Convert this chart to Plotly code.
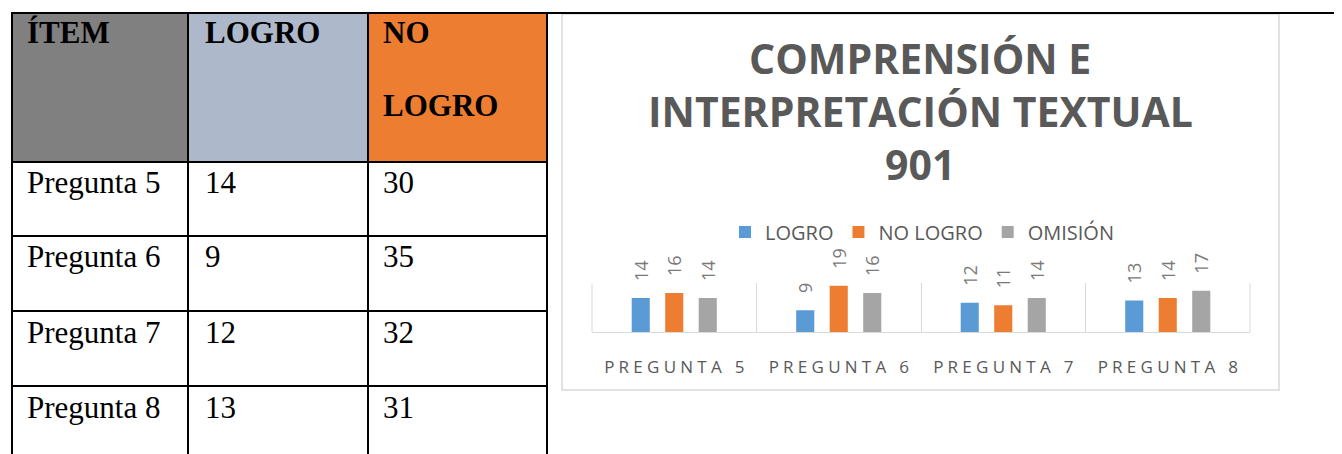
import plotly.graph_objects as go

# ---------------- data ----------------
preguntas = ["Pregunta 5", "Pregunta 6", "Pregunta 7", "Pregunta 8"]
tabla_logro = [14, 9, 12, 13]
tabla_no_logro = [30, 35, 32, 31]
tabla_headers = ["ÍTEM", "LOGRO", "NO<br>LOGRO"]

serie_nombres = ["LOGRO", "NO LOGRO", "OMISIÓN"]
logro = [14, 9, 12, 13]
no_logro = [16, 19, 11, 14]
omision = [14, 16, 14, 17]
titulo_lineas = ["COMPRENSIÓN E", "INTERPRETACIÓN TEXTUAL", "901"]

# ---------------- helpers ----------------
OFF = 8  # page body margin
W, H = 1342 - OFF, 454 - OFF
def X(px):
    return (px - OFF) / W
def Y(py):
    return 1 - (py - OFF) / H

def espaciar(s, sep="\u2005"):
    return sep.join(list(s))

colores = ["#5B9BD5", "#ED7D31", "#A5A5A5"]
gris_txt = "#595959"

fig = go.Figure()
for nombre, vals, col in zip(serie_nombres, [logro, no_logro, omision], colores):
    fig.add_trace(go.Bar(
        x=preguntas, y=vals, name=nombre,
        marker=dict(color=col, line=dict(width=0)),
        text=vals,
        texttemplate="\u00a0\u00a0\u00a0%{text}",
        textposition="outside", textangle=-90, constraintext="none",
        cliponaxis=False,
        textfont=dict(family="Open Sans", size=18, color="#7a7a7a"),
        hoverinfo="skip",
    ))

fig.update_layout(
    width=W, height=H,
    margin=dict(l=0, r=0, t=0, b=0),
    paper_bgcolor="white", plot_bgcolor="rgba(0,0,0,0)",
    barmode="group", bargap=0.389, bargroupgap=0.46,
    showlegend=True,
    legend=dict(orientation="h", x=X(922), xanchor="center", y=Y(232), yanchor="middle",
                font=dict(family="Open Sans", size=20, color=gris_txt),
                bgcolor="rgba(0,0,0,0)", itemwidth=30, traceorder="normal"),
    xaxis=dict(domain=[X(592), X(1250)], type="category",
               tickson="boundaries", showgrid=True, gridcolor="#D9D9D9", gridwidth=1,
               showline=True, linecolor="#D9D9D9", linewidth=1, ticks="",
               tickvals=preguntas,
               ticktext=[espaciar(p.upper()) for p in preguntas],
               tickfont=dict(family="Open Sans", size=17, color=gris_txt),
               ticklabelstandoff=20, zeroline=False),
    yaxis=dict(domain=[Y(332), Y(283.4)], range=[0, 20], showgrid=False,
               showticklabels=False, zeroline=False, showline=False, ticks=""),
    font=dict(family="Open Sans"),
)

shapes = []
annotations = []

# chart frame
shapes.append(dict(type="rect", xref="paper", yref="paper", layer="below",
                   x0=X(562), x1=X(1279), y0=Y(390), y1=Y(14),
                   line=dict(color="#D9D9D9", width=1.5), fillcolor="white"))

# outer category boundaries of the plot area
for xd in [0, 1]:
    shapes.append(dict(type="line", xref="x domain", yref="y domain", x0=xd, x1=xd, y0=0, y1=1,
                       line=dict(color="#D9D9D9", width=1), layer="above"))

# table header fills
col_x = [12, 188, 368, 547]
head_fill = ["#808080", "#ADB9CA", "#ED7D31"]
for i in range(3):
    shapes.append(dict(type="rect", xref="paper", yref="paper", layer="below",
                       x0=X(col_x[i]), x1=X(col_x[i + 1]), y0=Y(162), y1=Y(13),
                       line=dict(width=0), fillcolor=head_fill[i]))

# table lines
lw = 2
shapes.append(dict(type="line", xref="paper", yref="paper", x0=X(11), x1=X(1342),
                   y0=Y(13), y1=Y(13), line=dict(color="black", width=lw)))
for yy in [162, 236, 311, 386]:
    shapes.append(dict(type="line", xref="paper", yref="paper", x0=X(11), x1=X(548),
                       y0=Y(yy), y1=Y(yy), line=dict(color="black", width=lw)))
for xx in col_x:
    shapes.append(dict(type="line", xref="paper", yref="paper", x0=X(xx), x1=X(xx),
                       y0=Y(460), y1=Y(13), line=dict(color="black", width=lw)))

serif = "Liberation Serif"
txt_x = [26, 204, 382]
# header text
hdr_lines = [["ÍTEM"], ["LOGRO"], tabla_headers[2].split("<br>")]
for i, lines in enumerate(hdr_lines):
    for j, t in enumerate(lines):
        annotations.append(dict(xref="paper", yref="paper", x=X(txt_x[i]), y=Y(32 + 74 * j),
                                xanchor="left", yanchor="middle", showarrow=False,
                                text="<b>" + t + "</b>", borderpad=0,
                                font=dict(family=serif, size=31, color="black")))
# body text
for r, (p, lg, nl) in enumerate(zip(preguntas, tabla_logro, tabla_no_logro)):
    yc = 182 + 75 * r
    for i, t in enumerate([p, str(lg), str(nl)]):
        annotations.append(dict(xref="paper", yref="paper", x=X(txt_x[i]), y=Y(yc),
                                xanchor="left", yanchor="middle", showarrow=False,
                                text=t, borderpad=0,
                                font=dict(family=serif, size=31, color="black")))

# chart title
for j, t in enumerate(titulo_lineas):
    annotations.append(dict(xref="paper", yref="paper", x=X(920), y=Y(58 + 53 * j),
                            xanchor="center", yanchor="middle", showarrow=False,
                            text="<b>" + t + "</b>", borderpad=0,
                            font=dict(family="Open Sans", size=41, color=gris_txt)))

fig.update_layout(shapes=shapes, annotations=annotations)
fig.write_html("out.html")
